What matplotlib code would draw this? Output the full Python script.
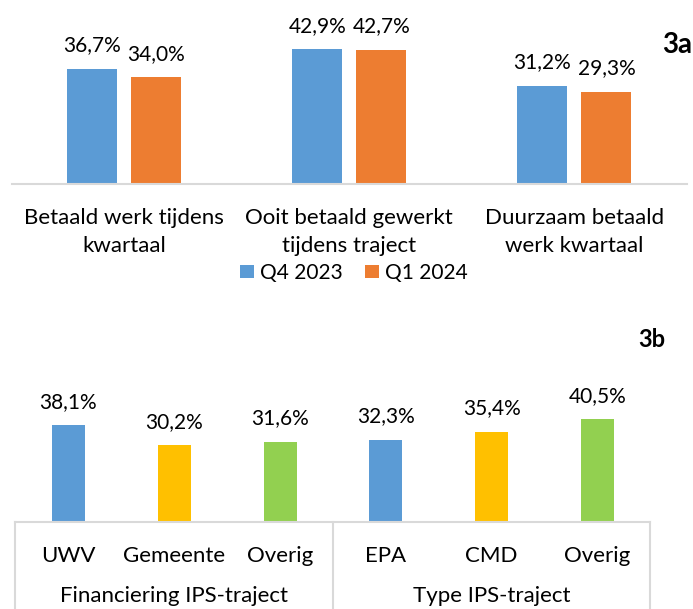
import matplotlib
matplotlib.use("Agg")
import matplotlib.pyplot as plt
from matplotlib.transforms import blended_transform_factory
import numpy as np

plt.rcParams['font.family'] = ['Lato', 'DejaVu Sans']

# ---- data ----
cats_a = ["Betaald werk tijdens\nkwartaal", "Ooit betaald gewerkt\ntijdens traject", "Duurzaam betaald\nwerk kwartaal"]
q4_2023 = [36.7, 42.9, 31.2]
q1_2024 = [34.0, 42.7, 29.3]
series_names = ["Q4 2023", "Q1 2024"]

cats_b = ["UWV", "Gemeente", "Overig", "EPA", "CMD", "Overig"]
vals_b = [38.1, 30.2, 31.6, 32.3, 35.4, 40.5]
groups_b = ["Financiering IPS-traject", "Type IPS-traject"]

BLUE = "#5B9BD5"
ORANGE = "#ED7D31"
YELLOW = "#FFC000"
GREEN = "#92D050"
GRID = "#D9D9D9"
colors_b = [BLUE, YELLOW, GREEN, BLUE, YELLOW, GREEN]

W, H = 693, 609
fig = plt.figure(figsize=(W / 100, H / 100), dpi=100)

def fy(px):
    return 1 - px / H

def fmt(v):
    return f"{v:.1f}%".replace(".", ",")

FS = 15
FS_CAT = 16
LBL_OFF = 17.5 * 0.72  # points

# ---- chart 3a ----
base_a = 184
scale_a = 3.14
top_a = base_a - scale_a * 50
ax1 = fig.add_axes([11.5 / W, fy(base_a), 675.5 / W, (base_a - top_a) / H])
x = np.arange(len(cats_a))
bw = 50 / 225.2
off = 32 / 225.2
b1 = ax1.bar(x - off, q4_2023, bw, color=BLUE, label=series_names[0])
b2 = ax1.bar(x + off, q1_2024, bw, color=ORANGE, label=series_names[1])
ax1.set_xlim(-0.5, len(cats_a) - 0.5)
ax1.set_ylim(0, 50)
for xs, vals in ((x - off, q4_2023), (x + off, q1_2024)):
    for xi, v in zip(xs, vals):
        ax1.annotate(fmt(v), (xi, v), xytext=(0, LBL_OFF), textcoords='offset points',
                     ha='center', va='baseline', fontsize=FS, color='black')
for s in ['top', 'left', 'right']:
    ax1.spines[s].set_visible(False)
ax1.spines['bottom'].set_color(GRID)
ax1.spines['bottom'].set_linewidth(1.5)
ax1.set_yticks([])
ax1.set_xticks([])
trA = blended_transform_factory(ax1.transData, fig.transFigure)
for xi, lab in zip(x, cats_a):
    for k, line in enumerate(lab.split("\n")):
        ax1.text(xi, fy(224 + 28 * k), line, transform=trA, ha='center', va='baseline',
                 fontsize=FS_CAT, color='black')

fig.legend(handles=[b1, b2], labels=series_names, loc='center',
           bbox_to_anchor=(354 / W, fy(273)), ncol=2, frameon=False, fontsize=FS,
           handlelength=0.63, handleheight=0.63, handletextpad=0.3,
           columnspacing=1.1, borderpad=0, borderaxespad=0)

fig.text(662 / W, fy(53), "3a", fontsize=20, fontweight='bold', ha='left', va='baseline')

# ---- chart 3b ----
base_b = 522
scale_b = 2.54
top_b = base_b - scale_b * 50
ax2 = fig.add_axes([15.5 / W, fy(base_b), 635 / W, (base_b - top_b) / H])
xb = np.arange(len(cats_b))
ax2.bar(xb, vals_b, 33 / 105.8, color=colors_b)
ax2.set_xlim(-0.5, len(cats_b) - 0.5)
ax2.set_ylim(0, 50)
for xi, v in zip(xb, vals_b):
    ax2.annotate(fmt(v), (xi, v), xytext=(0, LBL_OFF), textcoords='offset points',
                 ha='center', va='baseline', fontsize=FS, color='black')
for s in ['top', 'left', 'right']:
    ax2.spines[s].set_visible(False)
ax2.spines['bottom'].set_color(GRID)
ax2.spines['bottom'].set_linewidth(1.5)
ax2.set_yticks([])
ax2.set_xticks([])
trB = blended_transform_factory(ax2.transData, fig.transFigure)
for xi, lab in zip(xb, cats_b):
    ax2.text(xi, fy(562), lab, transform=trB, ha='center', va='baseline', fontsize=FS_CAT)
for gx in (-0.5, 2.5, 5.5):
    ax2.plot([gx, gx], [fy(base_b), 0], transform=trB, color=GRID, lw=1.5, clip_on=False)
for gi, g in enumerate(groups_b):
    ax2.text(gi * 3 + 1, fy(602), g, transform=trB, ha='center', va='baseline', fontsize=FS_CAT)

fig.text(638 / W, fy(347), "3b", fontsize=17, fontweight='bold', ha='left', va='baseline')

fig.savefig("out.png", dpi=100)
